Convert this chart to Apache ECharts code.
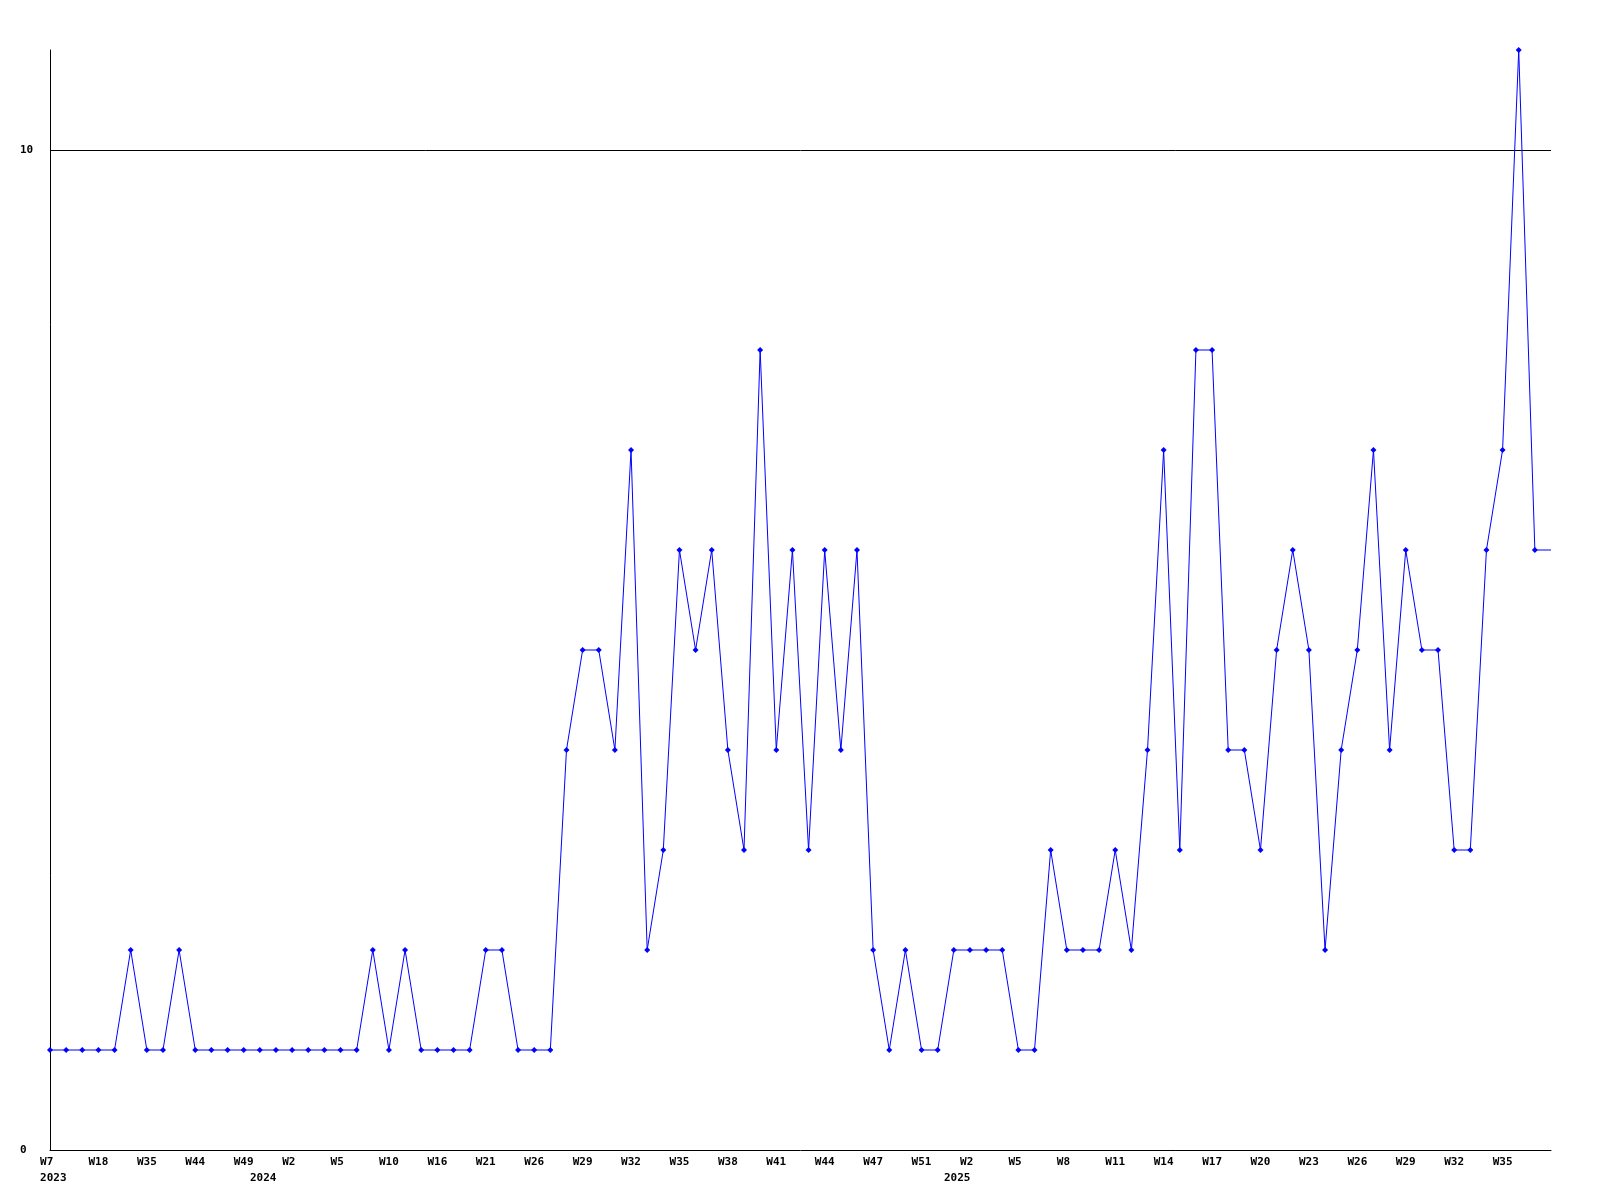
<!DOCTYPE html>
<html>
<head>
<meta charset="utf-8">
<script src="https://cdn.jsdelivr.net/npm/echarts@6/dist/echarts.min.js"></script>
<style>
  html, body { margin: 0; padding: 0; background: #ffffff; }
  #chart { width: 1600px; height: 1200px; }
</style>
</head>
<body>
<div id="chart"></div>
<script>
// Week categories (one per data point)
const weeks = [
  'W7','W10','W14','W18','W24','W30','W35','W38','W41','W44',
  'W46','W48','W49','W52','W1','W2','W3','W4','W5','W7',
  'W8','W10','W12','W14','W16','W18','W19','W21','W23','W24',
  'W26','W27','W28','W29','W30','W31','W32','W33','W34','W35',
  'W36','W37','W38','W39','W40','W41','W42','W43','W44','W45',
  'W46','W47','W48','W50','W51','W52','W1','W2','W3','W4',
  'W5','W6','W7','W8','W9','W10','W11','W12','W13','W14',
  'W15','W16','W17','W18','W19','W20','W21','W22','W23','W24',
  'W25','W26','W27','W28','W29','W30','W31','W32','W33','W34',
  'W35','W36','W37','W38'
];
// Series values
const counts = [
  1,1,1,1,1,2,1,1,2,1,
  1,1,1,1,1,1,1,1,1,1,
  2,1,2,1,1,1,1,2,2,1,
  1,1,4,5,5,4,7,2,3,6,
  5,6,4,3,8,4,6,3,6,4,
  6,2,1,2,1,1,2,2,2,2,
  1,1,3,2,2,2,3,2,4,7,
  3,8,8,4,4,3,5,6,5,2,
  4,5,7,4,6,5,5,3,3,6,
  7,11,6,6
];
// Year labels and the category where each starts
const yearLabels = ['2023', '2024', '2025'];
const yearStartIndex = [0, 13, 56];
// Y tick labels
const yTicks = [0, 10];
const refLine = 10;

const FONT = '"DejaVu Sans Mono", monospace';
const chart = echarts.init(document.getElementById('chart'), null, { renderer: 'canvas' });

const seriesData = counts.map((v, i) => i === counts.length - 1 ? { value: v, symbol: 'none' } : v);

chart.setOption({
  animation: false,
  backgroundColor: '#ffffff',
  grid: { left: 50, right: 49, top: 50, bottom: 50, containLabel: false },
  xAxis: [
    {
      type: 'category',
      data: weeks,
      boundaryGap: false,
      axisLine: { show: true, lineStyle: { color: '#000000', width: 1 } },
      axisTick: { show: false },
      splitLine: { show: false },
      axisLabel: {
        interval: (i) => i % 3 === 0 && i < weeks.length - 1,
        formatter: (v) => v.length < 3 ? v + ' ' : v,
        color: '#000000',
        fontFamily: FONT,
        fontWeight: 'bold',
        fontSize: 11,
        margin: 7
      }
    },
    {
      type: 'category',
      data: weeks,
      position: 'bottom',
      boundaryGap: false,
      axisLine: { show: false },
      axisTick: { show: false },
      splitLine: { show: false },
      axisLabel: {
        interval: (i) => yearStartIndex.indexOf(i) >= 0,
        formatter: (v, i) => {
          const k = yearStartIndex.indexOf(i);
          return k >= 0 ? ' ' + yearLabels[k] : '';
        },
        color: '#000000',
        fontFamily: FONT,
        fontWeight: 'bold',
        fontSize: 11,
        margin: 23
      }
    }
  ],
  yAxis: {
    type: 'value',
    min: 0,
    max: 11,
    interval: 10,
    axisLine: { show: true, lineStyle: { color: '#000000', width: 1 } },
    axisTick: { show: false },
    splitLine: { show: false },
    axisLabel: {
      formatter: (v) => yTicks.indexOf(v) >= 0 ? String(v) : '',
      align: 'left',
      margin: 30,
      color: '#000000',
      fontFamily: FONT,
      fontWeight: 'bold',
      fontSize: 11
    }
  },
  series: [
    {
      type: 'line',
      data: seriesData,
      xAxisIndex: 0,
      symbol: 'diamond',
      symbolSize: 6,
      showAllSymbol: true,
      lineStyle: { color: '#0000ff', width: 1 },
      itemStyle: { color: '#0000ff' },
      emphasis: { disabled: true },
      z: 3,
      markLine: {
        silent: true,
        symbol: ['none', 'none'],
        label: { show: false },
        lineStyle: { color: '#000000', width: 1, type: 'solid' },
        emphasis: { disabled: true },
        data: [{ yAxis: refLine }],
        z: 2
      }
    }
  ]
});
</script>
</body>
</html>
